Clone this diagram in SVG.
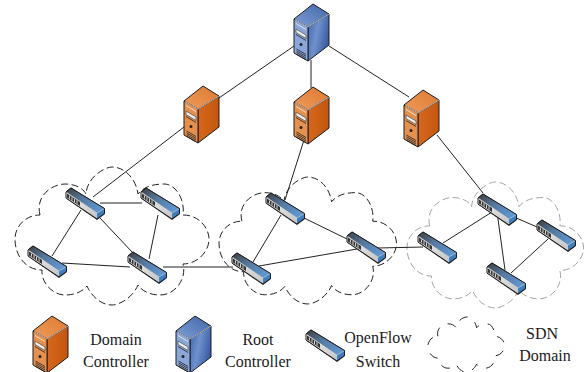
<svg xmlns="http://www.w3.org/2000/svg" xmlns:xlink="http://www.w3.org/1999/xlink" width="587" height="372" viewBox="0 0 587 372">
<style>
text{font-family:"Liberation Serif","Times New Roman",serif;font-size:16px;fill:#1a1a1a;text-anchor:middle}
.link{stroke:#222;stroke-width:1;fill:none}
.cl{fill:none;stroke:#222;stroke-width:1;stroke-dasharray:7 3.5}
.cg{stroke:#9a9a9a;stroke-width:.9}
.cleg{stroke-dasharray:9 9}
#cloud{vector-effect:non-scaling-stroke}
.ol{stroke:#1c1c1c;stroke-width:1;stroke-linejoin:round}
.w{stroke:#fff;stroke-width:.8;fill:none;opacity:.85}
.d{stroke:#222;stroke-width:.8;fill:none}
</style>
<defs>
<linearGradient id="oside" x1="0" y1="0" x2="1" y2="0"><stop offset="0" stop-color="#d5681c"/><stop offset="1" stop-color="#c4570f"/></linearGradient>
<linearGradient id="otop" x1="0" y1="1" x2="1" y2="0"><stop offset="0" stop-color="#ee9a5c"/><stop offset="1" stop-color="#de7a30"/></linearGradient>
<linearGradient id="bside" x1="0" y1="0" x2="1" y2="0.4"><stop offset="0" stop-color="#3f66ab"/><stop offset=".5" stop-color="#6f90cc"/><stop offset="1" stop-color="#3a5fa5"/></linearGradient>
<linearGradient id="btop" x1="0" y1="1" x2="1" y2="0"><stop offset="0" stop-color="#7f9fd6"/><stop offset="1" stop-color="#3f65a8"/></linearGradient>
<linearGradient id="stop" x1="0" y1="0" x2="1" y2="0.6"><stop offset="0" stop-color="#3d3d40"/><stop offset=".5" stop-color="#55799f"/><stop offset="1" stop-color="#5f95cf"/></linearGradient>
<linearGradient id="sfront" x1="0" y1="0" x2="1" y2="1"><stop offset="0" stop-color="#f2f2f2"/><stop offset="1" stop-color="#c4c4c4"/></linearGradient>
<g id="det">
<path d="M2,19.500 L12,25.500" class="w"/>
<path d="M2,25 L12,31 L12,34.500 L2,28.500Z" fill="#eee" stroke="#333" stroke-width=".6"/>
<path d="M2,30.500 L12,36.500" class="d"/>
<circle cx="7" cy="40.500" r="1.500" fill="#222"/>
<path d="M2.500,45 L12,50.500 M2.500,46.800 L12,52.300 M2.500,48.600 L12,54.100 M2.500,50.400 L12,55.800" class="d"/>
<path d="M14,23 L35,10 M14,23 L1,15.500" class="w"/>
</g>
<g id="srvO">
<path class="ol" d="M14,23 L35,10 L35,41 L14,57Z" fill="url(#oside)"/>
<path class="ol" d="M0,15 L19,0 L35,10 L14,23Z" fill="url(#otop)"/>
<path class="ol" d="M0,15 L14,23 L14,57 L0,49Z" fill="#e4914f"/>
<use xlink:href="#det"/>
</g>
<g id="srvB">
<path class="ol" d="M14,23 L35,10 L35,41 L14,57Z" fill="url(#bside)"/>
<path class="ol" d="M0,15 L19,0 L35,10 L14,23Z" fill="url(#btop)"/>
<path class="ol" d="M0,15 L14,23 L14,57 L0,49Z" fill="#8ba6d8"/>
<use xlink:href="#det"/>
</g>
<g id="sw">
<path d="M0,3.500 L5,-.5 L39,20.500 L39,26 L31,32 L0,10.500Z" fill="#333"/>
<path d="M0,4 L5,0 L38.500,20.500 L31,25Z" fill="url(#stop)"/>
<path d="M0,4 L31,25 L31,31 L0,10Z" fill="url(#sfront)"/>
<path d="M31,25 L38.500,20.500 L38.500,25.500 L31,31Z" fill="#3f7fc0"/>
<path d="M0,4 L31,25 L38.500,20.500" stroke="#e8e8e8" stroke-width=".6" fill="none"/>
<path class="ol" fill="none" stroke-width="1.300" d="M0,4 L5,0 L38.500,20.500 L38.500,25.500 L31,31 L0,10Z"/>
<path d="M1,5.500 L14,14 L14,18 L1,9.500Z" fill="#333"/>
<path d="M3.500,7.500 V10.500 M6,9 V12.500 M8.500,10.700 V14 M11,12.300 V15.800" stroke="#fff" stroke-width=".8"/>
</g>
<path id="cloud" d="M25,48 C20,28 38,17 50,17 C60,17 68,21 71,27 C72,10 90,0 97,0 C110,0 121,12 123,27 C130,18 142,17 150,17 C162,18 170,34 168,48 C185,48 194,62 194,72 C194,85 182,97 168,97 C172,112 160,128 145,128 C135,128 127,124 123,118 C118,130 105,138 97,138 C85,138 76,128 72,119 C66,126 58,128 50,128 C38,128 26,116 27,103 C10,103 0,88 0,72 C0,60 10,48 25,48Z"/>
</defs>

<g id="clouds">
<use id="cloud-1" xlink:href="#cloud" class="cl" transform="translate(15,167)"/>
<use id="cloud-2" xlink:href="#cloud" class="cl" transform="translate(219,177) scale(.915,.92)"/>
<use id="cloud-3" xlink:href="#cloud" class="cl cg" transform="translate(407,182) scale(.91,.913)"/>
</g>

<g id="connectors">
<path class="link" d="M294,46 L219,98"/>
<path class="link" d="M311,60 L311,88"/>
<path class="link" d="M329,46 L409,97"/>
<path class="link" d="M184,127 L93,197"/>
<path class="link" d="M304,140 L285,200"/>
<path class="link" d="M437,135 L483,193"/>
<path class="link" d="M100,203 L142,203"/>
<path class="link" d="M81,210 L52,256"/>
<path class="link" d="M100,218 L133,253"/>
<path class="link" d="M158,215 L149,259"/>
<path class="link" d="M62,263 L130,267"/>
<path class="link" d="M163,267 L233,267"/>
<path class="link" d="M281,215 L253,262"/>
<path class="link" d="M302,217 L347,239"/>
<path class="link" d="M259,266 L357,249"/>
<path class="link" d="M378,248 L423,247"/>
<path class="link" d="M443,243 L492,212"/>
<path class="link" d="M497,212 L505,270"/>
<path class="link" d="M514,217 L537,227"/>
<path class="link" d="M548,239 L511,273"/>
</g>

<g id="root-controller"><use xlink:href="#srvB" x="294" y="4"/></g>
<g id="domain-controller-1"><use xlink:href="#srvO" x="184" y="86"/></g>
<g id="domain-controller-2"><use xlink:href="#srvO" x="294" y="87"/></g>
<g id="domain-controller-3"><use xlink:href="#srvO" x="404" y="90"/></g>

<g id="switch-1"><use xlink:href="#sw" x="66" y="188"/></g>
<g id="switch-2"><use xlink:href="#sw" x="141" y="188"/></g>
<g id="switch-3"><use xlink:href="#sw" x="28" y="246"/></g>
<g id="switch-4"><use xlink:href="#sw" x="128" y="252"/></g>
<g id="switch-5"><use xlink:href="#sw" x="266" y="193"/></g>
<g id="switch-6"><use xlink:href="#sw" x="232" y="253"/></g>
<g id="switch-7"><use xlink:href="#sw" x="347" y="232"/></g>
<g id="switch-8"><use xlink:href="#sw" x="478" y="194"/></g>
<g id="switch-9"><use xlink:href="#sw" x="537" y="220"/></g>
<g id="switch-10"><use xlink:href="#sw" x="418" y="232"/></g>
<g id="switch-11"><use xlink:href="#sw" x="487" y="263"/></g>

<g id="legend-domain"><use xlink:href="#srvO" x="33" y="316"/><text x="116" y="345">Domain</text><text x="116" y="367">Controller</text></g>
<g id="legend-root"><use xlink:href="#srvB" x="176" y="316"/><text x="258" y="345">Root</text><text x="258" y="367">Controller</text></g>
<g id="legend-switch"><use xlink:href="#sw" x="306" y="330"/><text x="378" y="343">OpenFlow</text><text x="378" y="367">Switch</text></g>
<g id="legend-cloud"><use xlink:href="#cloud" class="cl cleg" transform="translate(428,317) scale(.395,.4)"/><text x="542" y="339">SDN</text><text x="545" y="361">Domain</text></g>
</svg>
